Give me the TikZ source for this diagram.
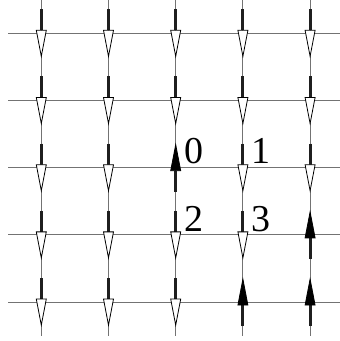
\documentclass[tikz,border=0pt]{standalone}
\usepackage{fontspec}
\setmainfont{Liberation Serif}
\usetikzlibrary{positioning}
\newcommand{\gap}{67.2}

\begin{document}
\begin{tikzpicture}[x=1pt, y=1pt,
  rung/.style={draw=black!55, line width=0.9pt},
  bar/.style={draw=black!88, line width=3pt},
  head/.style={draw=black, line width=0.8pt, line join=miter},
  lab/.style={font=\fontsize{38}{38}\selectfont, inner sep=0pt, anchor=base west},
  spin/.pic={
    \draw[bar] (0,24) -- (0,3);
    \draw[head, fill=#1] (-5,3) -- (5,3) -- (0,-23) -- cycle;
  }]
\useasboundingbox (0,0) rectangle (340,341);
% lattice sites
\foreach \c in {1,...,5}
  \foreach \r in {1,...,5}
    \coordinate (v\c\r) at ({41.3+\gap*(\c-1)}, {307.7-\gap*(\r-1)});
% grid lines
\foreach \r in {1,...,5}
  \draw[rung] (8,0 |- v1\r) -- (340,0 |- v1\r);
\foreach \c in {1,...,5}
  \draw[rung] (v\c1 |- 0,5) -- (v\c1 |- 0,341);
% spins, flipped ones point up
\foreach \c in {1,...,5}
  \foreach \r in {1,...,5} {
    \pgfmathtruncatemacro\up{or(or(and(\c==3,\r==3), and(\c==5,\r==4)), and(\c>3,\r==5))}
    \ifnum\up=1 \def\headfill{black}\def\turn{180}\else\def\headfill{white}\def\turn{0}\fi
    \pic[rotate=\turn] at (v\c\r) {spin=\headfill};
  }
% site labels
\node[lab, xshift=8.5, yshift=4] (lab0) at (v33) {0};
\node[lab, xshift=8, yshift=4] (lab1) at (v43) {1};
\node[lab, xshift=8.5, yshift=3] (lab2) at (v34) {2};
\node[lab, xshift=8, yshift=3] (lab3) at (v44) {3};
\end{tikzpicture}
\end{document}
